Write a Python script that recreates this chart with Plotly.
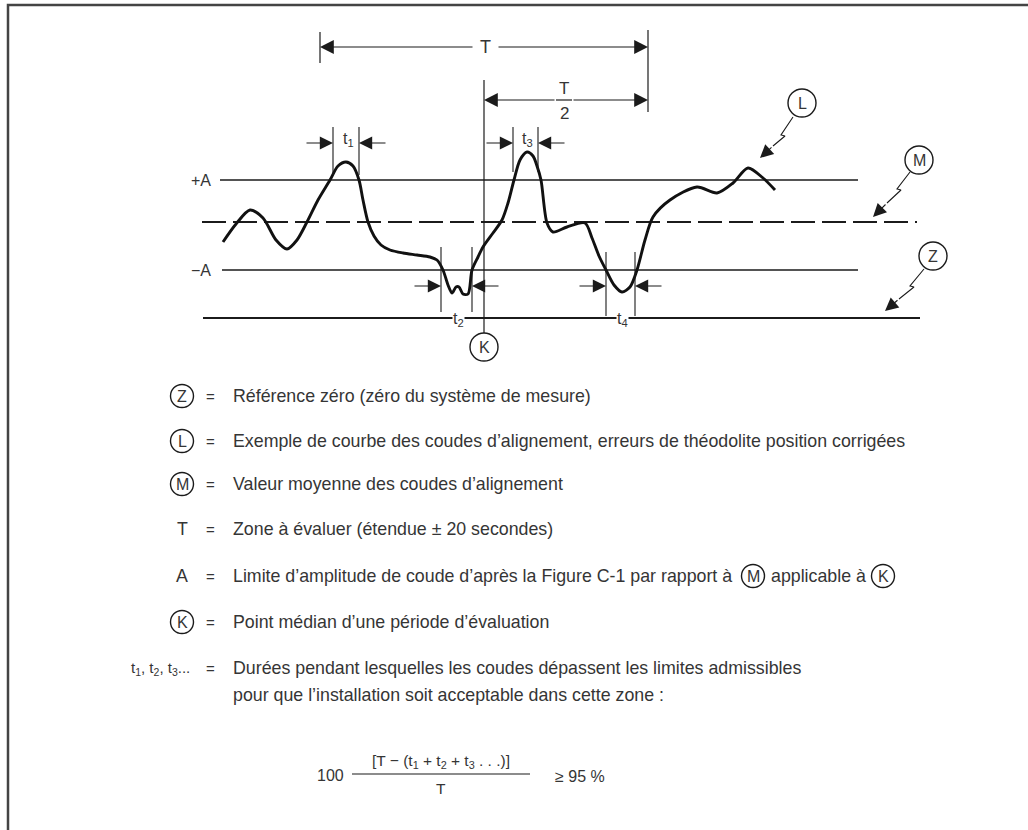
import plotly.graph_objects as go

# --- curve L (alignment bends), traced in drawing units (x right, y down) ---
curve_x = [223, 236, 250, 263, 276, 287, 297, 307, 318, 330, 338, 346, 353, 359, 363, 368, 374, 381,
           390, 403, 417, 430, 437, 443, 448, 452, 456, 459, 463, 468, 472, 478, 483, 493, 502, 508,
           514, 520, 527, 533, 537, 541, 547, 553, 567, 585, 592, 599, 606, 614, 622, 630, 637, 645,
           653, 670, 697, 717, 733, 748, 763, 775]
curve_y = [242, 224, 210, 218, 240, 249, 240, 222, 200, 180, 166, 162, 166, 180, 200, 222, 236, 245,
           250, 253, 255, 257, 260, 270, 285, 293, 287, 287, 294, 294, 270, 257, 247, 233, 220, 203,
           180, 160, 152, 156, 166, 180, 223, 232, 227, 223, 238, 256, 270, 285, 292, 287, 270, 240,
           217, 200, 187, 193, 183, 168, 178, 190]

# reference levels
level_names = ["+A", "M", "−A", "Z"]
level_y = [180, 222, 270, 318]
level_x0 = [220, 202, 222, 203]
level_x1 = [858, 917, 858, 920]

# duration marks: label, left/right tick x, arrow y, tick extent, label y
dim_labels = ["t<sub>1</sub>", "t<sub>3</sub>", "t<sub>2</sub>", "t<sub>4</sub>"]
dim_left = [333, 513, 441, 606]
dim_right = [359, 538, 472, 635]
dim_arrow_y = [143, 143, 286, 286]
dim_tick_top = [127, 127, 247, 252]
dim_tick_bot = [175, 172, 312, 316]
dim_label_y = [139, 139, 319, 319]

# balloons in drawing
balloon_letters = ["L", "M", "Z", "K"]
balloon_x = [802, 919, 933, 484]
balloon_y = [103, 160, 256, 347]
leader_pts = {
    "L": [(793, 117), (781, 135), (785, 136), (773, 146), (760, 158)],
    "M": [(910, 172), (897, 189), (901, 190), (887, 203), (873, 217)],
    "Z": [(924, 269), (910, 286), (914, 287), (899, 299), (885, 311)],
}

# legend rows
legend_keys = ["Z", "L", "M", "T", "A", "K"]
legend_circled = [True, True, True, False, False, True]
legend_texts = [
    "Référence zéro (zéro du système de mesure)",
    "Exemple de courbe des coudes d’alignement, erreurs de théodolite position corrigées",
    "Valeur moyenne des coudes d’alignement",
    "Zone à évaluer (étendue ± 20 secondes)",
    "Limite d’amplitude de coude d’après la Figure C-1 par rapport à",
    "Point médian d’une période d’évaluation",
]
legend_y = [396, 441, 484, 529, 576, 622]
t_row_y = [668, 695]
t_row_text = ["Durées pendant lesquelles les coudes dépassent les limites admissibles",
              "pour que l’installation soit acceptable dans cette zone :"]

INK = "#1b1b1b"
TXT = "#353535"
FONT = "Liberation Sans, Arial, sans-serif"
FS = 17.8

fig = go.Figure()
shapes = []
ann = []

# frame
fig.add_trace(go.Scatter(x=[8, 8, 1028], y=[830, 5, 5], mode="lines",
                         line=dict(color="#444", width=2.5), hoverinfo="skip"))

# level lines
for name, y, x0, x1 in zip(level_names, level_y, level_x0, level_x1):
    dash = "24px,7px" if name == "M" else "solid"
    w = 1.4 if name in ("+A", "−A") else 2.0
    fig.add_trace(go.Scatter(x=[x0, x1], y=[y, y], mode="lines",
                             line=dict(color=INK, width=w, dash=dash), hoverinfo="skip"))
for name, y in zip(level_names[::2], level_y[::2]):
    ann.append(dict(x=213, y=y, text=name, xanchor="right", yanchor="middle", showarrow=False,
                    font=dict(size=16, color=TXT, family=FONT)))

# K vertical and T verticals
fig.add_trace(go.Scatter(x=[484, 484, None, 320, 320, None, 648, 648],
                         y=[80, 333, None, 32, 63, None, 30, 112], mode="lines",
                         line=dict(color=INK, width=1.2), hoverinfo="skip"))

# curve
fig.add_trace(go.Scatter(x=curve_x, y=curve_y, mode="lines",
                         line=dict(color="#111", width=2.9, shape="spline", smoothing=0.8),
                         hoverinfo="skip"))


def arrow(tip_x, tip_y, tail_x, tail_y, w=1.2, size=2.3):
    ann.append(dict(x=tip_x, y=tip_y, ax=tail_x, ay=tail_y, xref="x", yref="y", axref="x", ayref="y",
                    text="", showarrow=True, arrowhead=2, arrowsize=size, arrowwidth=w,
                    arrowcolor=INK, standoff=0, startstandoff=0))


# T dimension
arrow(320, 47, 474, 47)
arrow(648, 47, 497, 47)
ann.append(dict(x=485, y=47, text="T", showarrow=False, font=dict(size=18, color=TXT, family=FONT)))
# T/2 dimension
arrow(484, 100, 556, 100)
arrow(648, 100, 572, 100)
fig.add_trace(go.Scatter(x=[556, 572], y=[100, 100], mode="lines",
                         line=dict(color=INK, width=1.2), hoverinfo="skip"))
ann.append(dict(x=564, y=88, text="T", showarrow=False, font=dict(size=17, color=TXT, family=FONT)))
ann.append(dict(x=564, y=113, text="2", showarrow=False, font=dict(size=17, color=TXT, family=FONT)))

# duration marks
tx, ty = [], []
for lab, xl, xr, ya, t0, t1, ly in zip(dim_labels, dim_left, dim_right, dim_arrow_y,
                                       dim_tick_top, dim_tick_bot, dim_label_y):
    tx += [xl, xl, None, xr, xr, None]
    ty += [t0, t1, None, t0, t1, None]
    arrow(xl, ya, xl - 28, ya, w=1.2, size=2.2)
    arrow(xr, ya, xr + 28, ya, w=1.2, size=2.2)
    ann.append(dict(x=(xl + xr) / 2 + 2, y=ly, text=lab, showarrow=False, bgcolor="white",
                    borderpad=0, font=dict(size=16, color=TXT, family=FONT)))
fig.add_trace(go.Scatter(x=tx, y=ty, mode="lines", line=dict(color=INK, width=1.1), hoverinfo="skip"))


def balloon(cx, cy, r, letter, fs):
    shapes.append(dict(type="circle", xref="x", yref="y", x0=cx - r, x1=cx + r, y0=cy - r, y1=cy + r,
                       line=dict(color=INK, width=1.4), fillcolor="white"))
    ann.append(dict(x=cx, y=cy, text=letter, showarrow=False,
                    font=dict(size=fs, color=TXT, family=FONT)))


for letter, cx, cy in zip(balloon_letters, balloon_x, balloon_y):
    balloon(cx, cy, 14, letter, 16)
    if letter in leader_pts:
        pts = leader_pts[letter]
        fig.add_trace(go.Scatter(x=[p[0] for p in pts[:-1]], y=[p[1] for p in pts[:-1]], mode="lines",
                                 line=dict(color=INK, width=1.1), hoverinfo="skip"))
        arrow(pts[-1][0], pts[-1][1], pts[-2][0], pts[-2][1], w=1.1, size=2.4)

# legend
for key, circ, txt, y in zip(legend_keys, legend_circled, legend_texts, legend_y):
    if circ:
        balloon(182, y, 11.5, key, 16)
    else:
        ann.append(dict(x=182, y=y, text=key, showarrow=False, font=dict(size=FS, color=TXT, family=FONT)))
    ann.append(dict(x=210, y=y, text="=", showarrow=False, font=dict(size=15, color=TXT, family=FONT)))
    ann.append(dict(x=231, y=y, text=txt, xanchor="left", showarrow=False,
                    font=dict(size=FS, color=TXT, family=FONT)))

# inline balloons of row A
balloon(753, legend_y[4], 11.5, "M", 16)
ann.append(dict(x=769, y=legend_y[4], text="applicable à", xanchor="left", showarrow=False,
                font=dict(size=FS, color=TXT, family=FONT)))
balloon(883, legend_y[4], 11.5, "K", 16)

# t row
ann.append(dict(x=192, y=t_row_y[0], text="t<sub>1</sub>, t<sub>2</sub>, t<sub>3</sub>...", xanchor="right",
                showarrow=False, font=dict(size=15, color=TXT, family=FONT)))
ann.append(dict(x=210, y=t_row_y[0], text="=", showarrow=False, font=dict(size=15, color=TXT, family=FONT)))
for y, txt in zip(t_row_y, t_row_text):
    ann.append(dict(x=231, y=y, text=txt, xanchor="left", showarrow=False,
                    font=dict(size=FS, color=TXT, family=FONT)))

# formula
ann.append(dict(x=330, y=775, text="100", showarrow=False, font=dict(size=16, color=TXT, family=FONT)))
ann.append(dict(x=441, y=761, text="[T − (t<sub>1</sub> + t<sub>2</sub> + t<sub>3</sub> . . .)]", showarrow=False,
                font=dict(size=15.5, color=TXT, family=FONT)))
fig.add_trace(go.Scatter(x=[352, 530], y=[774, 774], mode="lines", line=dict(color=INK, width=1.1),
                         hoverinfo="skip"))
ann.append(dict(x=441, y=788, text="T", showarrow=False, font=dict(size=15.5, color=TXT, family=FONT)))
ann.append(dict(x=553, y=776, text="≥ 95 %", xanchor="left", showarrow=False,
                font=dict(size=16, color=TXT, family=FONT)))

fig.update_layout(
    width=1028, height=830, margin=dict(l=0, r=0, t=0, b=0),
    paper_bgcolor="white", plot_bgcolor="white", showlegend=False,
    xaxis=dict(range=[0, 1028], visible=False, fixedrange=True),
    yaxis=dict(range=[830, 0], visible=False, fixedrange=True),
    shapes=shapes, annotations=ann,
)
fig.write_html("out.html", config={"displayModeBar": False},
               post_script="document.body.style.margin='0';")
